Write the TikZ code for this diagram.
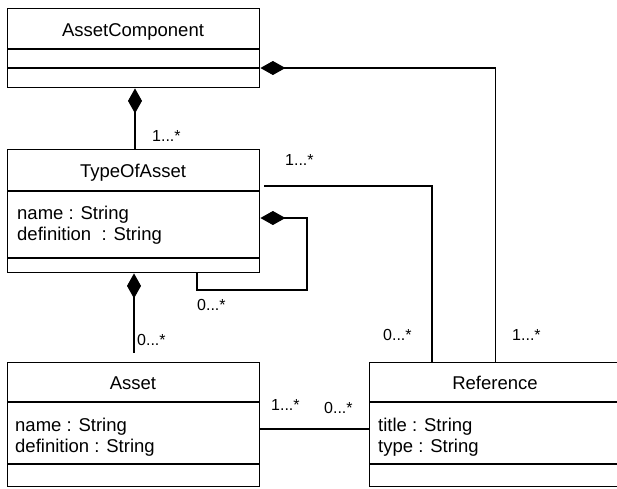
\documentclass[tikz,border=0pt]{standalone}
\usepackage{fontspec}
\setmainfont{Liberation Sans}
\usetikzlibrary{arrows.meta}
\begin{document}
\begin{tikzpicture}[x=1pt,y=-1pt,
  classbox/.style={draw, line width=1.4pt, rectangle, minimum width=252pt, anchor=north west, inner sep=0pt},
  divider/.style={line width=1.4pt},
  ttl/.style={anchor=base, font=\fontsize{18.5}{21}\selectfont, inner sep=0pt},
  attr/.style={anchor=base west, font=\fontsize{18.5}{21}\selectfont, inner sep=0pt},
  mult/.style={anchor=base west, font=\fontsize{16}{18}\selectfont, inner sep=0pt},
  assoc/.style={line width=1.1pt},
  comp/.style={line width=1.1pt, {Diamond[length=25pt,width=14pt]}-}
]
\useasboundingbox (0,0) rectangle (617,488);
\clip (0,0) rectangle (617,488);

% classes
\node[classbox, minimum height=79pt] (ac) at (7,8) {};
\node[classbox, minimum height=123pt] (toa) at (7,149) {};
\node[classbox, minimum height=124pt] (asset) at (7,362) {};
\node[classbox, minimum height=124pt] (ref) at (369,362) {};

% dividers
\draw[divider] (ac.west |- 0,49) -- (ac.east |- 0,49);
\draw[divider] (ac.west |- 0,68) -- (ac.east |- 0,68);
\draw[divider] (toa.west |- 0,191) -- (toa.east |- 0,191);
\draw[divider] (toa.west |- 0,258) -- (toa.east |- 0,258);
\draw[divider] (asset.west |- 0,402) -- (asset.east |- 0,402);
\draw[divider] (asset.west |- 0,464) -- (asset.east |- 0,464);
\draw[divider] (ref.west |- 0,402) -- (ref.east |- 0,402);
\draw[divider] (ref.west |- 0,464) -- (ref.east |- 0,464);

% texts
\node[ttl] (acT) at (133,36) {AssetComponent};
\node[ttl] (toaT) at (133,177) {TypeOfAsset};
\node[attr] (toaA1) at (17,219) {name : String};
\node[attr] (toaA2) at (17,240) {definition\ \ : String};
\node[ttl] (assetT) at (133,389) {Asset};
\node[attr] (assetA1) at (15,431) {name : String};
\node[attr] (assetA2) at (15,452) {definition : String};
\node[ttl] (refT) at (495,389) {Reference};
\node[attr] (refA1) at (378,431) {title : String};
\node[attr] (refA2) at (378,452) {type : String};

% connectors
\draw[comp] (ac.south -| 135,0) -- (toa.north -| 135,0);
\draw[comp] (ac.east |- 0,68) -| (ref.north);
\draw[assoc, shorten <=4pt] (toa.east |- 0,186) -| (ref.north -| 432,0);
\draw[comp] (toa.east |- 0,218) -| (307,290) -| (toa.south -| 197,0);
\draw[comp, shorten >=9pt] (toa.south -| 134,0) -- (asset.north -| 134,0);
\draw[assoc] (asset.east |- 0,429) -- (ref.west |- 0,429);

% multiplicities
\node[mult] (m1) at (152,141) {1...*};
\node[mult] (m2) at (285,165) {1...*};
\node[mult] (m3) at (197,310) {0...*};
\node[mult] (m4) at (137,345) {0...*};
\node[mult] (m5) at (383,340) {0...*};
\node[mult] (m6) at (512,340) {1...*};
\node[mult] (m7) at (271,410) {1...*};
\node[mult] (m8) at (324,413) {0...*};
\end{tikzpicture}
\end{document}
